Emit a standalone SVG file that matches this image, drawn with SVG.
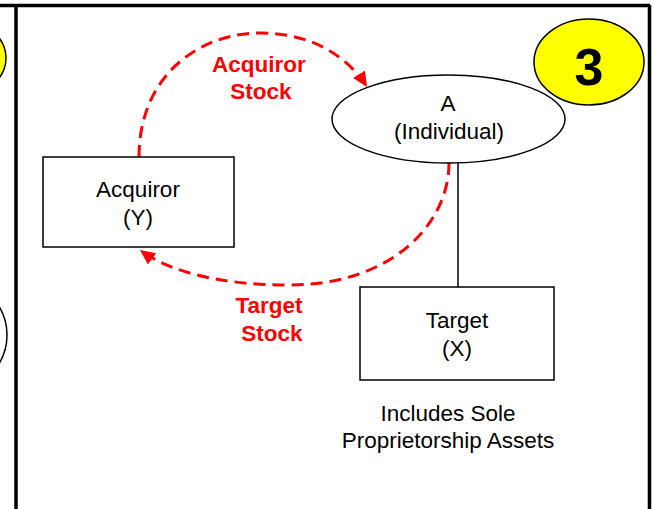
<svg xmlns="http://www.w3.org/2000/svg" width="654" height="509" viewBox="0 0 654 509">
<style>
  .t { font-family: "Liberation Sans", Arial, sans-serif; font-size: 22.5px; fill: #000; text-anchor: middle; }
  .r { font-family: "Liberation Sans", Arial, sans-serif; font-size: 22.5px; font-weight: bold; fill: #ff0000; text-anchor: middle; }
  .box { fill: #fff; stroke: #000; stroke-width: 1.5; }
  .flow { fill: none; stroke: #ff0000; stroke-width: 3; stroke-dasharray: 12 7; }
  .frame { stroke: #000; stroke-width: 3.5; fill: none; }
</style>
<defs>
  <marker id="ah" markerUnits="userSpaceOnUse" markerWidth="16" markerHeight="14" refX="15" refY="7" orient="auto">
    <path d="M0,0 L15,7 L0,14 Z" fill="#ff0000"/>
  </marker>
</defs>
<rect width="654" height="509" fill="#fff"/>
<!-- partial shapes of neighbouring panel -->
<ellipse cx="-49" cy="58" rx="55" ry="41" fill="#ffff00" stroke="#000" stroke-width="1.5"/>
<ellipse cx="-60" cy="335" rx="67" ry="60" fill="#fff" stroke="#000" stroke-width="1.5"/>
<!-- frame -->
<path class="frame" d="M0,5.5 H650 M16,5 V509 M649.5,5 V509"/>
<g id="badge">
  <ellipse cx="589" cy="62" rx="55" ry="43" fill="#ffff00" stroke="#000" stroke-width="1.5"/>
  <text x="589" y="85" font-family="Liberation Sans, Arial, sans-serif" font-size="52" font-weight="bold" text-anchor="middle">3</text>
</g>
<g id="connectors">
  <line x1="458" y1="163" x2="458" y2="287" stroke="#000" stroke-width="1.5"/>
  <path class="flow" d="M139,157 C139,75 200,33 260,33 C316,33 350,60 367,87" marker-end="url(#ah)"/>
  <path class="flow" d="M449,163 C449,225 390,285 290,285 C220,285 170,272 140,250" marker-end="url(#ah)"/>
  <text class="r" x="259" y="72">Acquiror</text>
  <text class="r" x="261" y="99">Stock</text>
  <text class="r" x="269" y="313">Target</text>
  <text class="r" x="272" y="341">Stock</text>
</g>
<g id="individual">
  <ellipse cx="448.5" cy="119" rx="116.5" ry="44" fill="#fff" stroke="#000" stroke-width="1.5"/>
  <text class="t" x="448" y="111">A</text>
  <text class="t" x="449" y="139">(Individual)</text>
</g>
<g id="acquiror">
  <rect class="box" x="43" y="157" width="191" height="90"/>
  <text class="t" x="138" y="197">Acquiror</text>
  <text class="t" x="138" y="225">(Y)</text>
</g>
<g id="target">
  <rect class="box" x="360" y="287" width="194" height="93"/>
  <text class="t" x="457" y="328">Target</text>
  <text class="t" x="457" y="356">(X)</text>
</g>
<g id="note">
  <text class="t" x="448" y="421">Includes Sole</text>
  <text class="t" x="448" y="448">Proprietorship Assets</text>
</g>
</svg>
